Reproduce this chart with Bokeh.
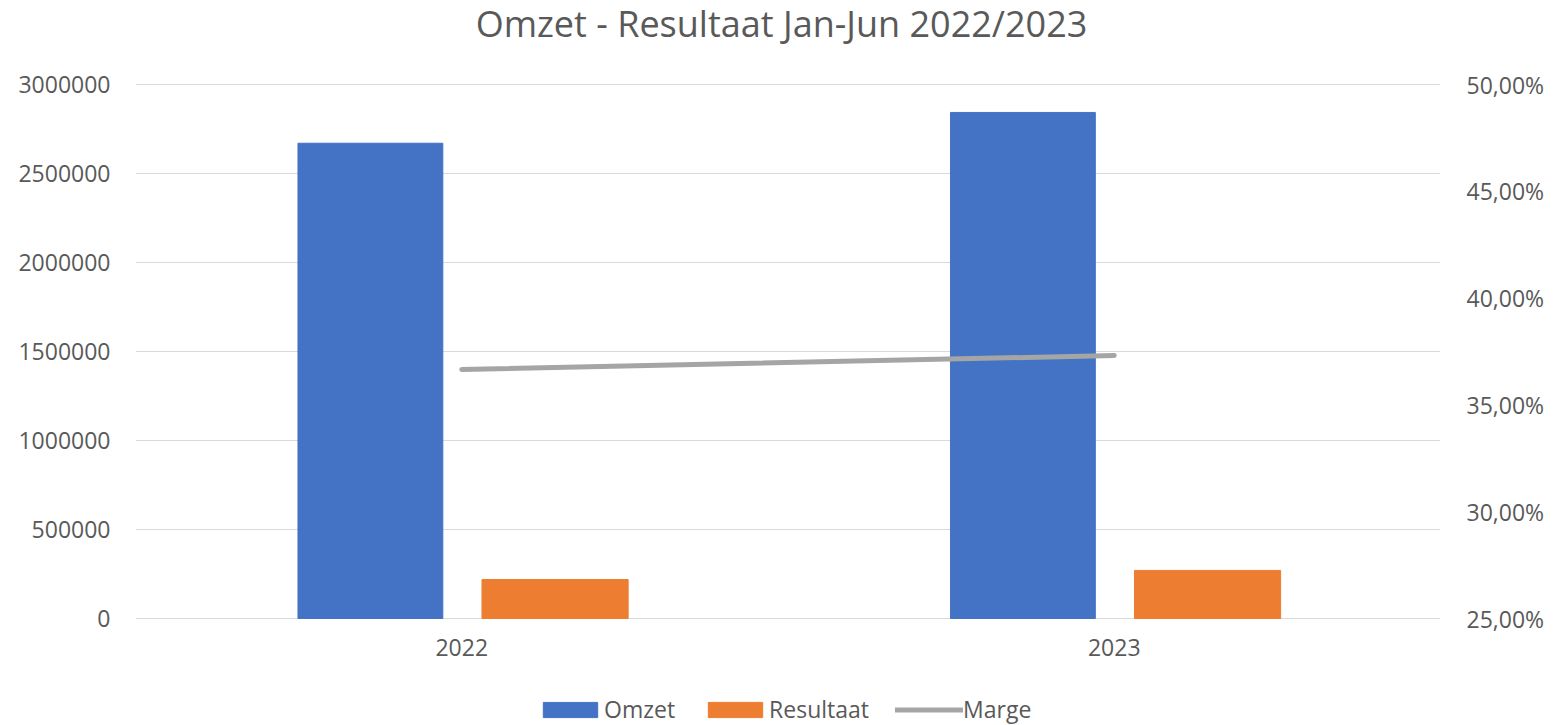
from bokeh.plotting import figure
from bokeh.models import (FactorRange, Range1d, LinearAxis, FixedTicker, CustomJSTickFormatter,
                          Legend, LegendItem, ColumnDataSource, NumeralTickFormatter, Label)
from bokeh.transform import dodge
from bokeh.embed import file_html
from bokeh.resources import INLINE

# ---- data ----
years = ["2022", "2023"]
omzet = [2670000, 2843000]
resultaat = [219000, 270000]
marge = [0.3666, 0.3731]
left_ticks = [0, 500000, 1000000, 1500000, 2000000, 2500000, 3000000]
right_ticks = [0.25, 0.30, 0.35, 0.40, 0.45, 0.50]
chart_title = "Omzet - Resultaat Jan-Jun 2022/2023"
series_names = ["Omzet", "Resultaat", "Marge"]

FONT = "Open Sans"
TXT = "#595959"

# ---- layout (pixels) ----
W, H = 1559, 725
ML, MR = 135, 119          # left / right borders for the axes
PLOT_TOP, PLOT_BOTTOM = 84, 618   # pixel rows of the top and bottom gridlines
# the frame spans the full height; the value axes are mapped so that their
# extreme ticks fall on PLOT_TOP / PLOT_BOTTOM
def span(lo, hi):
    per_px = (hi - lo) / (PLOT_BOTTOM - PLOT_TOP)
    return Range1d(lo - (H - PLOT_BOTTOM) * per_px, hi + PLOT_TOP * per_px)

src = ColumnDataSource(dict(years=years, omzet=omzet, resultaat=resultaat, marge=marge))

p = figure(width=W, height=H, x_range=FactorRange(*years),
           y_range=span(left_ticks[0], left_ticks[-1]), output_backend="svg",
           toolbar_location=None, title=None,
           min_border_left=ML, min_border_right=MR, min_border_top=0, min_border_bottom=0)
p.extra_y_ranges = {"marge": span(right_ticks[0], right_ticks[-1])}

p.outline_line_color = None
p.xgrid.grid_line_color = None
p.ygrid.grid_line_color = "#D9D9D9"
p.ygrid.grid_line_width = 1

r1 = p.vbar(x=dodge("years", -0.140, range=p.x_range), top="omzet", width=0.222,
            source=src, fill_color="#4472C4", line_color="#4472C4")
r2 = p.vbar(x=dodge("years", 0.143, range=p.x_range), top="resultaat", width=0.224,
            source=src, fill_color="#ED7D31", line_color="#ED7D31")
r3 = p.line(x="years", y="marge", source=src, y_range_name="marge",
            line_color="#A5A5A5", line_width=5, line_cap="round")

# x axis sits on the zero line
xa = p.xaxis[0]
xa.fixed_location = 0
# left axis
ya = p.yaxis[0]
ya.ticker = FixedTicker(ticks=left_ticks)
ya.formatter = NumeralTickFormatter(format="0")
# right axis
ra = LinearAxis(y_range_name="marge", ticker=FixedTicker(ticks=right_ticks),
                formatter=CustomJSTickFormatter(code="return (tick*100).toFixed(2).replace('.', ',') + '%';"))
p.add_layout(ra, "right")

for ax in [xa, ya, ra]:
    ax.axis_line_color = None
    ax.major_tick_line_color = None
    ax.minor_tick_line_color = None
    ax.major_tick_out = 0
    ax.major_tick_in = 0
    ax.major_label_text_font = FONT
    ax.major_label_text_font_size = "23px"
    ax.major_label_text_color = TXT
ya.major_label_standoff = 25
ra.major_label_standoff = 26
xa.major_label_standoff = 20

# title (inside the full-height frame, screen units from frame bottom-left)
title = Label(x=646, y=H - 23, x_units="screen", y_units="screen", text=chart_title,
              text_align="center", text_baseline="middle", text_font=FONT,
              text_font_size="36px", text_color=TXT)
p.add_layout(title)

legend = Legend(items=[LegendItem(label=series_names[0], renderers=[r1]),
                       LegendItem(label=series_names[1], renderers=[r2]),
                       LegendItem(label=series_names[2], renderers=[r3])],
                orientation="horizontal", location=(401, 0),
                glyph_width=68, glyph_height=19, spacing=26, label_standoff=-1,
                padding=0, margin=0, border_line_color=None, background_fill_alpha=0,
                label_text_font=FONT, label_text_font_size="23px", label_text_color=TXT)
p.add_layout(legend)

open("out.html", "w").write(file_html(p, INLINE))
